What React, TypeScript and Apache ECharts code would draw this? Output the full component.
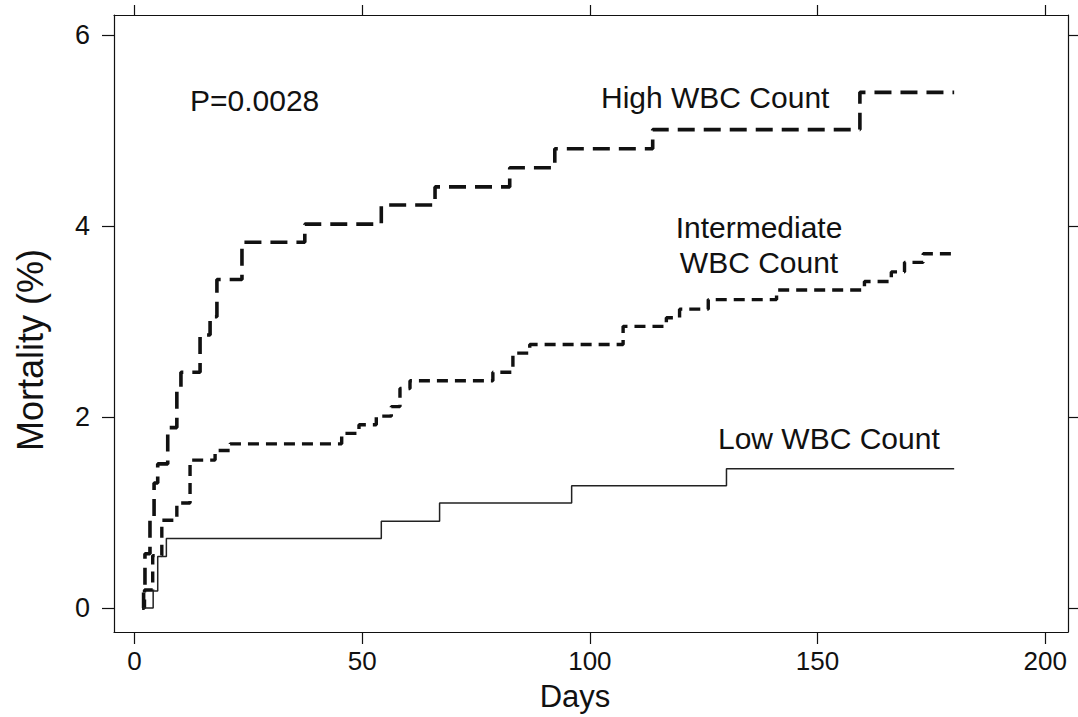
import React, { useEffect, useRef } from "react";
import * as echarts from "echarts";

const xTicks = [0, 50, 100, 150, 200];
const yTicks = [0, 2, 4, 6];

const highDays = [1.7, 2.0, 2.3, 3.4, 4.3, 5.1, 7.3, 9.3, 10.2, 14.4, 16.6, 18.1, 23.6, 37.4, 54.2, 66.0, 82.4, 92.3, 113.8, 159.3, 180.0];
const highVals = [0, 0.19, 0.57, 0.92, 1.31, 1.51, 1.89, 2.28, 2.47, 2.86, 3.05, 3.44, 3.83, 4.02, 4.22, 4.41, 4.61, 4.81, 5.01, 5.40, 5.40];

const intDays = [1.7, 2.2, 4.0, 6.0, 9.3, 12.2, 17.7, 21.0, 45.5, 49.3, 53.1, 56.4, 58.3, 60.5, 78.7, 83.1, 86.8, 107.3, 116.8, 119.7, 126.0, 141.0, 160.3, 166.2, 169.1, 173.2, 180.0];
const intVals = [0, 0.19, 0.55, 0.92, 1.10, 1.55, 1.65, 1.72, 1.83, 1.92, 2.01, 2.11, 2.30, 2.38, 2.47, 2.67, 2.76, 2.95, 3.04, 3.13, 3.23, 3.33, 3.42, 3.52, 3.62, 3.71, 3.71];

const lowDays = [1.9, 4.1, 5.1, 7.0, 54.2, 67.0, 96.0, 130.0, 180.0];
const lowVals = [0, 0.18, 0.54, 0.73, 0.91, 1.10, 1.28, 1.46, 1.46];

const FONT = "'Liberation Sans', Arial, Helvetica, sans-serif";

function pairs(xs: number[], ys: number[]) {
  return xs.map((x, i) => [x, ys[i]]);
}

export default function App() {
  const ref = useRef<HTMLDivElement>(null);
  useEffect(() => {
    if (!ref.current) return;
    const chart = echarts.init(ref.current, undefined, { renderer: "svg" });
    const axisLine = { show: true, onZero: false, lineStyle: { color: "#111", width: 1.2 } };
    const tick = { show: true, inside: false, length: 12, lineStyle: { color: "#111", width: 1.2 } };
    chart.setOption({
      animation: false,
      backgroundColor: "#fff",
      grid: { left: 114, right: 10, top: 15, bottom: 85, containLabel: false },
      xAxis: [
        {
          type: "value", min: -4.5, max: 205, position: "bottom",
          axisLine, axisTick: { ...tick, customValues: xTicks },
          axisLabel: { customValues: xTicks, color: "#111", fontSize: 26, fontFamily: FONT, margin: 16 },
          splitLine: { show: false },
        },
        {
          type: "value", min: -4.5, max: 205, position: "top",
          axisLine, axisTick: { ...tick, length: 10, customValues: xTicks },
          axisLabel: { show: false, customValues: xTicks },
          splitLine: { show: false },
        },
      ],
      yAxis: [
        {
          type: "value", min: -0.25, max: 6.21, position: "left",
          axisLine, axisTick: { ...tick, customValues: yTicks },
          axisLabel: { customValues: yTicks, color: "#111", fontSize: 27, fontFamily: FONT, margin: 24 },
          splitLine: { show: false },
        },
        {
          type: "value", min: -0.25, max: 6.21, position: "right",
          axisLine, axisTick: { ...tick, length: 10, customValues: yTicks },
          axisLabel: { show: false, customValues: yTicks },
          splitLine: { show: false },
        },
      ],
      series: [
        {
          name: "High WBC Count", type: "line", step: "end", showSymbol: false, symbol: "none",
          xAxisIndex: 0, yAxisIndex: 0,
          data: pairs(highDays, highVals),
          lineStyle: { color: "#111", width: 3.6, type: [17, 9] },
        },
        {
          name: "Intermediate WBC Count", type: "line", step: "end", showSymbol: false, symbol: "none",
          xAxisIndex: 0, yAxisIndex: 0,
          data: pairs(intDays, intVals),
          lineStyle: { color: "#111", width: 3.4, type: [11, 7] },
        },
        {
          name: "Low WBC Count", type: "line", step: "end", showSymbol: false, symbol: "none",
          xAxisIndex: 0, yAxisIndex: 0,
          data: pairs(lowDays, lowVals),
          lineStyle: { color: "#222", width: 1.5 },
        },
      ],
      graphic: [
        { type: "text", x: 190, y: 100, style: { text: "P=0.0028", fontSize: 30, fontFamily: FONT, fill: "#111", verticalAlign: "middle" } },
        { type: "text", x: 601, y: 97, style: { text: "High WBC Count", fontSize: 30, fontFamily: FONT, fill: "#111", verticalAlign: "middle" } },
        { type: "text", x: 759, y: 245, style: { text: "Intermediate\nWBC Count", fontSize: 30, lineHeight: 35, align: "center", verticalAlign: "middle", fontFamily: FONT, fill: "#111" } },
        { type: "text", x: 718, y: 438, style: { text: "Low WBC Count", fontSize: 30, fontFamily: FONT, fill: "#111", verticalAlign: "middle" } },
        { type: "text", x: 575, y: 696, style: { text: "Days", fontSize: 31, fontFamily: FONT, fill: "#111", align: "center", verticalAlign: "middle" } },
        { type: "text", x: 30, y: 350, rotation: Math.PI / 2, style: { text: "Mortality (%)", fontSize: 36, fontFamily: FONT, fill: "#111", align: "center", verticalAlign: "middle" } },
      ],
    });
    return () => chart.dispose();
  }, []);
  return <div ref={ref} style={{ position: "fixed", left: 0, top: 0, width: 1078, height: 717 }} />;
}
